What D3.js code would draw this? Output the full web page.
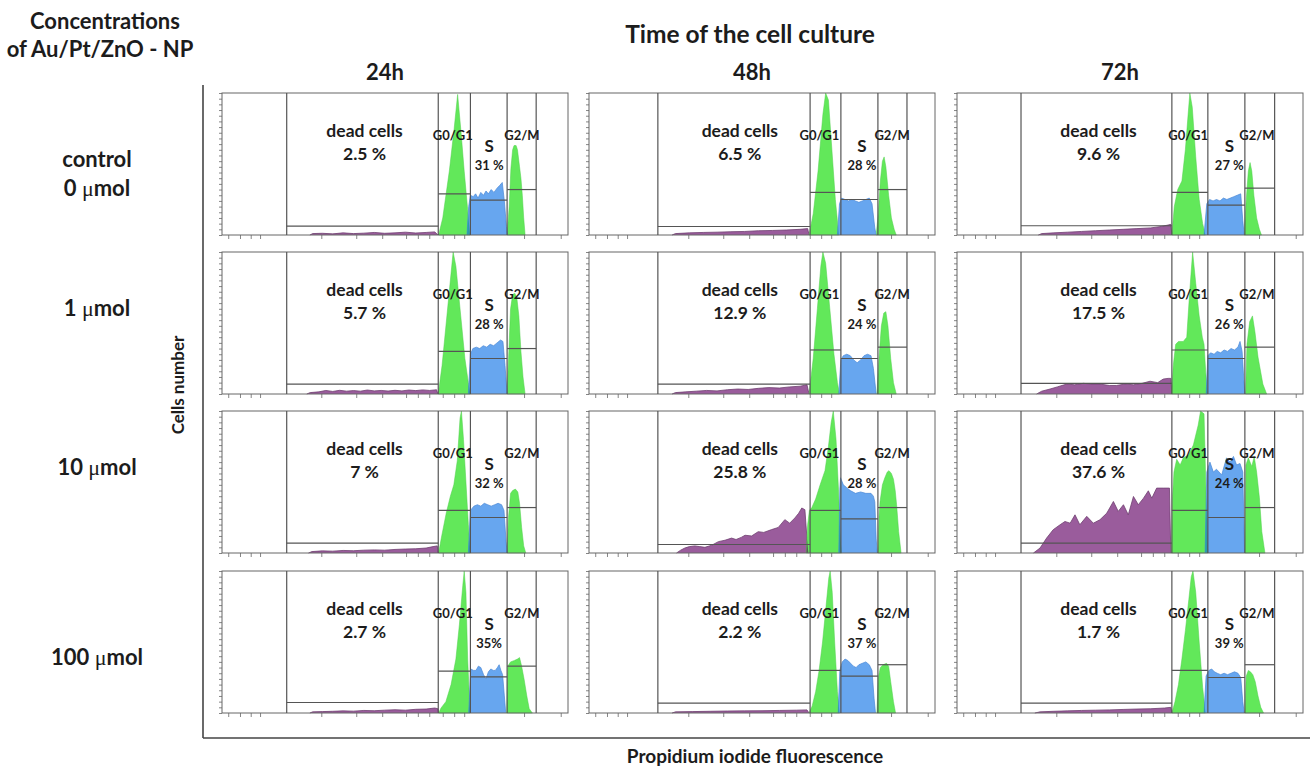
<!DOCTYPE html>
<html><head><meta charset="utf-8">
<script src="https://cdn.jsdelivr.net/npm/d3@7"></script>
<style>
body{margin:0;background:#fff;}
svg text{font-family:Lato,"Open Sans",sans-serif;font-weight:700;fill:#1c1c1c;}
</style></head><body>
<svg id="chart" width="1310" height="768"></svg>
<script>
// Culture times (columns) and nanoparticle doses (rows)
const times = ["24h", "48h", "72h"];
const doseLines = [["control", "0 μmol"], ["1 μmol"], ["10 μmol"], ["100 μmol"]];

// Percentages printed in each panel [row][col]
const deadLabels = [["2.5 %", "6.5 %", "9.6 %"], ["5.7 %", "12.9 %", "17.5 %"], ["7 %", "25.8 %", "37.6 %"], ["2.7 %", "2.2 %", "1.7 %"]];
const sLabels = [["31 %", "28 %", "27 %"], ["28 %", "24 %", "26 %"], ["32 %", "28 %", "24 %"], ["35%", "37 %", "39 %"]];

// Gate boundaries on the PI channel axis (0-1000), per column:
// [sub-G1 start, G0/G1 start, S start, G2/M start, G2/M end]
const gateEdges = [[187, 625, 718, 824, 908], [199, 639, 728, 835, 919], [185, 621, 725, 832, 918]];
// Marker bar heights (% of full scale) [row][col] -> [sub-G1, G0/G1, S, G2/M]
const gateLevels = [
  [[6.3, 29, 24.5, 32], [6, 30, 25, 32], [6.5, 30, 21, 33]],
  [[7, 30, 25, 32], [7, 31, 25, 33], [7.5, 31, 25, 33]],
  [[7, 30, 25, 32], [6, 30, 24, 32], [7, 30, 25, 32]],
  [[7.4, 29.5, 25.5, 33], [7, 30, 26, 34], [7, 30, 25, 34]]
];

// Histogram traces [row][col] as [channel, count %]
const subG1Trace = [
  [
    [[254,0],[262,1],[290,1.2],[320,0.8],[350,1.5],[380,1],[410,1.3],[440,1.8],[470,1.2],[500,1.5],[530,2],[560,1.4],[590,1.8],[615,2.2],[624,0]],
    [[240,0],[250,1],[290,1.5],[330,1.8],[370,2],[410,2.3],[450,2.5],[490,3],[530,3.2],[570,3.5],[610,4],[632,4.5],[636,0]],
    [[235,0],[245,1],[280,1.5],[320,2],[360,2.5],[400,3],[440,3.5],[480,4],[520,4.5],[560,5],[590,6],[610,7],[618,7.5],[621,0]]
  ],
  [
    [[245,0],[255,1],[280,1.5],[300,2.5],[320,1.8],[340,2.6],[360,2],[380,2.4],[400,2],[420,2.8],[440,2.2],[460,2.5],[480,2.1],[500,2.6],[520,2.2],[540,2.8],[560,2.4],[580,2.9],[600,2.5],[620,3],[624,0]],
    [[240,0],[250,1],[280,1.5],[310,2],[340,2.5],[370,2.2],[400,3],[430,3.5],[460,3.2],[490,4],[520,4.5],[550,4.2],[580,5],[610,5.5],[630,6.5],[636,0]],
    [[230,0],[245,2],[269,3.5],[290,5],[317,7],[340,6.5],[365,7.5],[390,7],[413,7],[440,6],[461,6],[485,7],[510,6.5],[535,7.5],[558,9],[580,8],[596,10.5],[610,11],[618,11],[621,0]]
  ],
  [
    [[250,0],[260,1],[290,1.5],[320,1.3],[350,1.8],[380,1.6],[410,2],[440,2.2],[470,2],[500,2.5],[530,2.8],[560,3],[590,3.5],[610,4.5],[622,5],[625,0]],
    [[253,0],[265,2],[277,3.5],[290,4.5],[306,5],[320,4.5],[335,4],[355,5.5],[374,8],[393,9],[412,10.5],[425,9.5],[440,11],[451,12.5],[470,12],[489,15],[505,14.5],[528,16.5],[547,18],[566,23.5],[580,21],[595,24.7],[606,28],[615,31.7],[624,30.5],[630,10],[634,0]],
    [[221,0],[240,3.5],[259,10.5],[278,16.4],[298,19.9],[312,22.2],[327,21],[341,26.9],[355,19.9],[375,25.8],[394,21],[413,23.4],[433,28.1],[452,36.3],[466,29.3],[481,34],[495,26.9],[510,39.8],[524,34],[539,38.6],[553,43.8],[563,38.6],[577,45.7],[596,45.7],[614,45.7],[618,0]]
  ],
  [
    [[254,0],[262,0.8],[290,1],[320,1.2],[350,1.5],[380,1.3],[410,1.8],[440,1.6],[470,2],[500,2.3],[530,2],[560,2.6],[590,2.8],[615,3.5],[624,3],[626,0]],
    [[240,0],[250,0.8],[300,1],[350,1.2],[400,1.4],[450,1.5],[500,1.6],[550,1.8],[600,2],[630,2.2],[636,0]],
    [[225,0],[240,0.8],[280,1.2],[320,1.5],[360,1.8],[400,2],[440,2.2],[480,2.5],[520,2.8],[560,3],[600,3.5],[618,4],[621,0]]
  ]
];

const g0g1Trace = [
  [
    [[626,0],[638,12],[657,45],[671,75],[681,99],[691,72],[700,45],[710,18],[717,0]],
    [[636,0],[648,15],[662,45],[676,85],[684,100],[692,95],[702,60],[712,25],[722,0]],
    [[621,0],[628,20],[638,32],[650,38],[660,60],[668,85],[673,100],[680,90],[690,55],[700,25],[710,8],[718,0]]
  ],
  [
    [[625,0],[636,20],[650,55],[662,85],[668,100],[676,90],[690,55],[702,25],[712,8],[718,0]],
    [[636,0],[648,25],[660,60],[670,90],[676,100],[684,92],[696,60],[708,28],[718,8],[724,0]],
    [[620,0],[625,20],[632,35],[640,37],[654,37],[664,40],[672,70],[681,100],[690,78],[700,55],[709,40],[714,35],[719,15],[724,0]]
  ],
  [
    [[626,0],[635,12],[648,28],[660,40],[670,48],[680,65],[688,95],[692,100],[698,80],[705,50],[712,20],[718,0]],
    [[628,0],[632,20],[637,30],[644,32],[655,38],[668,48],[682,58],[692,75],[700,92],[706,100],[714,80],[721,45],[726,15],[730,0]],
    [[620,0],[623,40],[627,57],[635,66],[645,62],[654,67],[669,69],[683,76],[697,90],[704,100],[714,98],[720,40],[726,0]]
  ],
  [
    [[626,0],[633,3.5],[647,8],[662,20],[676,38],[686,62],[696,90],[700,100],[705,85],[710,38],[717,0]],
    [[636,0],[645,5],[655,15],[665,30],[675,50],[685,75],[693,95],[697,100],[703,85],[710,50],[718,15],[724,0]],
    [[621,0],[630,8],[640,20],[650,38],[660,58],[670,80],[677,96],[682,100],[690,85],[700,50],[710,18],[718,0]]
  ]
];

const sPhaseTrace = [
  [
    [[708,0],[713,20],[718,28],[726,27],[733,29],[740,26],[748,30],[756,28],[763,31],[770,29],[778,32],[786,30],[795,33],[803,35],[810,37],[816,24],[822,6],[825,0]],
    [[718,0],[724,22],[730,26],[740,25],[750,24],[760,25],[770,24],[780,23],[790,24],[800,25],[810,26],[818,22],[826,5],[830,0]],
    [[714,0],[722,22],[730,25],[740,24],[750,25],[760,24],[770,26],[780,25],[790,26],[800,27],[810,28],[820,29],[826,10],[830,0]]
  ],
  [
    [[712,0],[718,28],[725,32],[735,33],[745,32],[755,34],[765,33],[775,35],[785,34],[795,36],[805,38],[812,37],[818,20],[824,0]],
    [[722,0],[728,24],[735,27],[745,28],[755,27],[765,24],[775,22],[785,24],[795,27],[805,28],[815,27],[822,18],[830,0]],
    [[720,0],[725,27],[733,29],[743,28],[752,30],[762,29],[772,31],[782,30],[792,32],[802,31],[812,33],[818,37],[824,30],[829,10],[832,0]]
  ],
  [
    [[712,0],[718,30],[728,33],[738,34],[748,33],[758,35],[768,34],[778,33],[788,34],[798,35],[808,34],[815,30],[821,8],[824,0]],
    [[722,0],[725,45],[727,53],[735,48],[745,46],[755,44],[770,42],[785,43],[800,42],[815,42],[822,40],[826,36],[830,10],[833,0]],
    [[717,0],[722,57],[731,64],[741,57],[750,59],[765,55],[779,67],[789,64],[799,68],[808,62],[818,63],[826,57],[831,0]]
  ],
  [
    [[713,0],[719,31],[727,30],[734,30],[741,33],[748,32],[756,27],[763,24],[770,29],[777,31],[784,30],[790,30],[796,32],[801,34],[806,30],[811,27],[816,12],[820,0]],
    [[720,0],[725,30],[732,36],[740,38],[748,37],[756,35],[764,33],[772,32],[780,34],[790,35],[800,36],[810,34],[818,30],[824,10],[828,0]],
    [[714,0],[720,26],[728,30],[736,31],[744,29],[752,28],[762,27],[772,28],[782,27],[792,28],[802,29],[812,28],[820,25],[826,8],[830,0]]
  ]
];

const g2mTrace = [
  [
    [[824,0],[830,20],[835,47],[840,60],[844,63],[850,63],[854,60],[860,48],[864,40],[868,28],[872,12],[876,0]],
    [[830,0],[836,15],[842,38],[848,52],[853,55],[858,48],[866,28],[874,12],[882,4],[888,0]],
    [[830,0],[836,25],[842,45],[847,51],[852,45],[858,28],[866,12],[874,4],[880,0]]
  ],
  [
    [[824,0],[829,30],[834,60],[840,70],[846,71],[852,68],[858,55],[864,30],[870,12],[876,0]],
    [[832,0],[838,25],[845,48],[852,57],[858,58],[864,48],[872,25],[880,8],[888,0]],
    [[834,0],[838,35],[846,51],[854,55],[861,44],[870,26],[884,7],[895,0]]
  ],
  [
    [[824,0],[828,25],[834,42],[840,44],[848,45],[855,43],[860,35],[866,18],[872,5],[878,0]],
    [[835,0],[838,25],[841,36],[848,48],[855,53],[862,57],[867,58],[874,56],[880,52],[885,44],[889,34],[895,15],[902,0]],
    [[832,0],[835,62],[842,67],[852,61],[859,68],[866,57],[874,39],[881,15],[890,0]]
  ],
  [
    [[823,0],[826,33],[834,36],[845,37],[854,38],[860,39],[866,33],[873,24],[881,12],[888,3],[897,0]],
    [[832,0],[836,25],[842,32],[850,34],[860,35],[866,33],[872,22],[880,8],[886,0]],
    [[832,0],[836,26],[842,30],[848,29],[855,27],[862,22],[870,12],[878,4],[886,0]]
  ]
];

// Axis tick positions (channel units and count %)
const xTicks = [18, 52, 83, 110, 287, 388, 463, 532, 566, 599, 638, 671, 700, 873, 979];
const yTicks = d3.range(0, 101, 4);

// Label anchors (channel) per column
const deadLabelX = [412, 436, 409];
const g1LabelX = [667, 666, 668];
const sLabelX = [772, 789, 787];
const g2LabelX = [867, 876, 867];

// ---- layout ----
const panelLeft = [222, 589, 957];
const panelTop = [93, 252, 411, 571];
const panelW = 346, panelH = 142;

const colors = {
  sub: "#9a5c9c", subLine: "#6e3f70",
  green: "#62e85a", greenLine: "#4fcf4a",
  blue: "#67a6ef", blueLine: "#4a88d6",
  teal: "#2a9cab", grey: "#5c5c5c",
  gate: "#555", frame: "#666"
};

const svg = d3.select("#chart");
const x = d3.scaleLinear().domain([0, 1000]).range([0, panelW]);
const y = d3.scaleLinear().domain([0, 100]).range([panelH, 0]).clamp(true);
const area = d3.area().x(d => x(d[0])).y0(panelH).y1(d => y(d[1]));
const line = d3.line().x(d => x(d[0])).y(d => y(d[1]));

const defs = svg.append("defs");

doseLines.forEach((_, r) => {
  times.forEach((__, c) => {
    const id = `p${r}${c}`;
    const g = svg.append("g").attr("transform", `translate(${panelLeft[c]},${panelTop[r]})`);
    const sub = subG1Trace[r][c], g1 = g0g1Trace[r][c], s = sPhaseTrace[r][c], g2 = g2mTrace[r][c];

    // clip regions for the overlapping parts of the histogram
    const clipGreen = defs.append("clipPath").attr("id", `green-${id}`);
    clipGreen.append("path").attr("d", area(g1));
    clipGreen.append("path").attr("d", area(g2));

    // sub-G1 (dead cells)
    g.append("path").attr("d", area(sub)).attr("fill", colors.sub);
    g.append("path").attr("d", line(sub)).attr("fill", "none").attr("stroke", colors.subLine).attr("stroke-width", 0.8);
    // G0/G1 and G2/M peaks
    [g1, g2].forEach(t => {
      g.append("path").attr("d", area(t)).attr("fill", colors.green)
        .attr("stroke", colors.greenLine).attr("stroke-width", 0.5);
    });
    // S phase
    g.append("path").attr("d", area(s)).attr("fill", colors.blue);
    g.append("path").attr("d", line(s)).attr("fill", "none").attr("stroke", colors.blueLine).attr("stroke-width", 0.7);
    // overlaps
    g.append("path").attr("d", area(s)).attr("fill", colors.teal).attr("clip-path", `url(#green-${id})`);
    g.append("path").attr("d", area(sub)).attr("fill", colors.grey).attr("clip-path", `url(#green-${id})`);

    // frame
    g.append("rect").attr("width", panelW).attr("height", panelH)
      .attr("fill", "none").attr("stroke", colors.frame).attr("stroke-width", 1);

    // axes
    const xa = g.append("g").attr("transform", `translate(0,${panelH})`)
      .call(d3.axisBottom(x).tickValues(xTicks).tickSize(4).tickFormat(""));
    const ya = g.append("g").call(d3.axisLeft(y).tickValues(yTicks).tickSize(3).tickFormat(""));
    [xa, ya].forEach(a => {
      a.select(".domain").remove();
      a.selectAll("line").attr("stroke", "#666").attr("stroke-width", 0.8);
    });

    // gate markers
    const e = gateEdges[c], lv = gateLevels[r][c];
    e.forEach(v => {
      g.append("line").attr("x1", x(v)).attr("x2", x(v)).attr("y1", 0).attr("y2", panelH)
        .attr("stroke", colors.gate).attr("stroke-width", 1.2);
    });
    lv.forEach((v, i) => {
      g.append("line").attr("x1", x(e[i])).attr("x2", x(e[i + 1]))
        .attr("y1", y(v)).attr("y2", y(v))
        .attr("stroke", colors.gate).attr("stroke-width", 1.2);
    });

    // labels
    g.append("text").attr("x", x(deadLabelX[c])).attr("y", 44).attr("text-anchor", "middle")
      .style("font-size", "17.5px").text("dead cells");
    g.append("text").attr("x", x(deadLabelX[c])).attr("y", 66.5).attr("text-anchor", "middle")
      .style("font-size", "17.5px").text(deadLabels[r][c]);
    g.append("text").attr("x", x(g1LabelX[c])).attr("y", 47).attr("text-anchor", "middle")
      .style("font-size", "13px").text("G0/G1");
    g.append("text").attr("x", x(g2LabelX[c])).attr("y", 47).attr("text-anchor", "middle")
      .style("font-size", "13px").text("G2/M");
    g.append("text").attr("x", x(sLabelX[c])).attr("y", 59).attr("text-anchor", "middle")
      .style("font-size", "17px").text("S");
    g.append("text").attr("x", x(sLabelX[c])).attr("y", 77).attr("text-anchor", "middle")
      .style("font-size", "13px").text(sLabels[r][c]);
  });
});

// outer axes
svg.append("line").attr("x1", 203).attr("x2", 203).attr("y1", 85).attr("y2", 738)
  .attr("stroke", "#444").attr("stroke-width", 1.6);
svg.append("line").attr("x1", 203).attr("x2", 1310).attr("y1", 738).attr("y2", 738)
  .attr("stroke", "#444").attr("stroke-width", 1.6);

// headings
svg.append("text").attr("x", 105).attr("y", 29).attr("text-anchor", "middle").style("font-size", "22px").text("Concentrations");
svg.append("text").attr("x", 100).attr("y", 57).attr("text-anchor", "middle").style("font-size", "22px").text("of Au/Pt/ZnO - NP");
svg.append("text").attr("x", 750).attr("y", 43).attr("text-anchor", "middle").style("font-size", "24.5px").text("Time of the cell culture");
times.forEach((t, c) => {
  svg.append("text").attr("x", panelLeft[c] + panelW / 2 - 10).attr("y", 80)
    .attr("text-anchor", "middle").style("font-size", "22px").text(t);
});

// dose labels with a symbol-font mu
const rowLabelY = [[167, 196], [316], [475], [665]];
doseLines.forEach((lines, r) => {
  lines.forEach((ln, k) => {
    const t = svg.append("text").attr("x", 97).attr("y", rowLabelY[r][k])
      .attr("text-anchor", "middle").style("font-size", "22px");
    const parts = ln.split("μ");
    t.append("tspan").text(parts[0]);
    if (parts.length > 1) {
      t.append("tspan").style("font-family", "'Liberation Serif',serif").style("font-weight", 400).text("μ");
      t.append("tspan").text(parts[1]);
    }
  });
});

svg.append("text").attr("transform", "translate(184,385) rotate(-90)").attr("text-anchor", "middle")
  .style("font-size", "17px").text("Cells number");
svg.append("text").attr("x", 755).attr("y", 763).attr("text-anchor", "middle")
  .style("font-size", "19px").text("Propidium iodide fluorescence");
</script></body></html>
